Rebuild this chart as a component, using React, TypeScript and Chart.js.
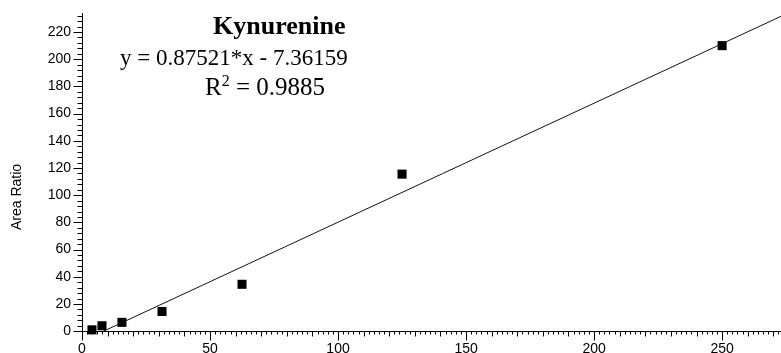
import React, { useEffect, useRef } from "react";
import { Chart, registerables } from "chart.js";

Chart.register(...registerables);

// ---- data ----
const concentrations = [3.9, 7.8, 15.6, 31.25, 62.5, 125, 250];
const areaRatios = [1, 4, 6.5, 14.5, 34.5, 115.5, 210];
const slope = 0.87521;
const intercept = -7.36159;
const rSquared = 0.9885;
const chartTitle = "Kynurenine";
const yAxisTitle = "Area Ratio";
const xRange = [0, 273];
const yRange = [-5, 234];
const xTickValues = [0, 50, 100, 150, 200, 250];
const yTickValues = [0, 20, 40, 60, 80, 100, 120, 140, 160, 180, 200, 220];

const fitStart = -intercept / slope;
const fitLine = [
  { x: fitStart, y: 0 },
  { x: xRange[1], y: slope * xRange[1] + intercept },
];

const decorPlugin = {
  id: "decor",
  afterDraw(chart: any) {
    const ctx = chart.ctx as CanvasRenderingContext2D;
    const xs = chart.scales.x;
    const ys = chart.scales.y;
    const axisY = Math.round(ys.getPixelForValue(0)) + 0.5;
    const axisX = Math.round(xs.getPixelForValue(0)) + 0.5;
    ctx.save();
    ctx.strokeStyle = "#000";
    ctx.lineWidth = 1;
    ctx.beginPath();
    for (let v = 0; v <= xRange[1]; v += 2) {
      const px = Math.round(xs.getPixelForValue(v)) + 0.5;
      const len = v % 50 === 0 ? 9 : v % 10 === 0 ? 5 : 3;
      ctx.moveTo(px, axisY);
      ctx.lineTo(px, axisY + len);
    }
    for (let v = 0; v <= yRange[1]; v += 4) {
      const py = Math.round(ys.getPixelForValue(v)) + 0.5;
      const len = v % 20 === 0 ? 9 : 5;
      ctx.moveTo(axisX, py);
      ctx.lineTo(axisX - len, py);
    }
    ctx.stroke();

    ctx.fillStyle = "#000";
    ctx.textBaseline = "alphabetic";
    ctx.textAlign = "left";
    ctx.font = 'bold 26px "Liberation Serif"';
    ctx.fillText(chartTitle, 213, 34);
    ctx.font = '23px "Liberation Serif"';
    const eq = `y = ${slope}*x - ${Math.abs(intercept)}`;
    ctx.fillText(eq, 120, 65);
    ctx.font = '25px "Liberation Serif"';
    ctx.fillText("R", 205, 95);
    const rw = ctx.measureText("R").width;
    ctx.font = '16px "Liberation Serif"';
    ctx.fillText("2", 205 + rw, 86);
    const sw = ctx.measureText("2").width;
    ctx.font = '25px "Liberation Serif"';
    ctx.fillText(` = ${rSquared.toFixed(4)}`, 205 + rw + sw, 95);

    ctx.font = '14px "Liberation Sans"';
    ctx.translate(17, 197);
    ctx.rotate(-Math.PI / 2);
    ctx.textAlign = "center";
    ctx.textBaseline = "middle";
    ctx.fillText(yAxisTitle, 0, 0);
    ctx.restore();
  },
};

export default function App() {
  const ref = useRef<HTMLCanvasElement>(null);
  useEffect(() => {
    document.body.style.margin = "0";
    const canvas = ref.current!;
    const chart = new Chart(canvas, {
      type: "scatter",
      data: {
        datasets: [
          {
            type: "line",
            data: fitLine,
            borderColor: "#111",
            borderWidth: 1,
            pointRadius: 0,
            fill: false,
          } as any,
          {
            data: concentrations.map((c, i) => ({ x: c, y: areaRatios[i] })),
            pointStyle: "rect",
            pointRadius: 6.4,
            pointBorderWidth: 0,
            backgroundColor: "#000",
            borderColor: "#000",
          },
        ],
      },
      options: {
        responsive: false,
        animation: false,
        devicePixelRatio: 1,
        layout: { autoPadding: false, padding: { top: 13, bottom: 15, left: 0, right: 0 } },
        plugins: { legend: { display: false }, tooltip: { enabled: false } },
        scales: {
          x: {
            type: "linear",
            position: { y: 0 } as any,
            min: xRange[0],
            max: xRange[1],
            afterBuildTicks: (s: any) => {
              s.ticks = xTickValues.map((v) => ({ value: v }));
            },
            afterFit: (s: any) => {
              s.paddingLeft = 0;
              s.paddingRight = 0;
              s.paddingTop = 0;
              s.paddingBottom = 0;
            },
            grid: { display: true, drawOnChartArea: false, drawTicks: false },
            border: { display: true, color: "#000", width: 1 },
            ticks: {
              color: "#000",
              padding: 10,
              maxRotation: 0,
              autoSkip: false,
              font: { family: "Liberation Sans", size: 14 },
            },
          },
          y: {
            type: "linear",
            position: "left",
            min: yRange[0],
            max: yRange[1],
            afterBuildTicks: (s: any) => {
              s.ticks = yTickValues.map((v) => ({ value: v }));
            },
            afterFit: (s: any) => {
              s.width = 82;
              s.paddingTop = 0;
              s.paddingBottom = 0;
              s.paddingLeft = 0;
              s.paddingRight = 0;
            },
            grid: { display: true, drawOnChartArea: false, drawTicks: false },
            border: { display: true, color: "#000", width: 1 },
            ticks: {
              color: "#000",
              padding: 11,
              autoSkip: false,
              font: { family: "Liberation Sans", size: 14 },
            },
          },
        },
      },
      plugins: [decorPlugin],
    });
    return () => chart.destroy();
  }, []);
  return (
    <div style={{ width: 781, height: 353 }}>
      <canvas ref={ref} width={781} height={353} style={{ display: "block" }} />
    </div>
  );
}
